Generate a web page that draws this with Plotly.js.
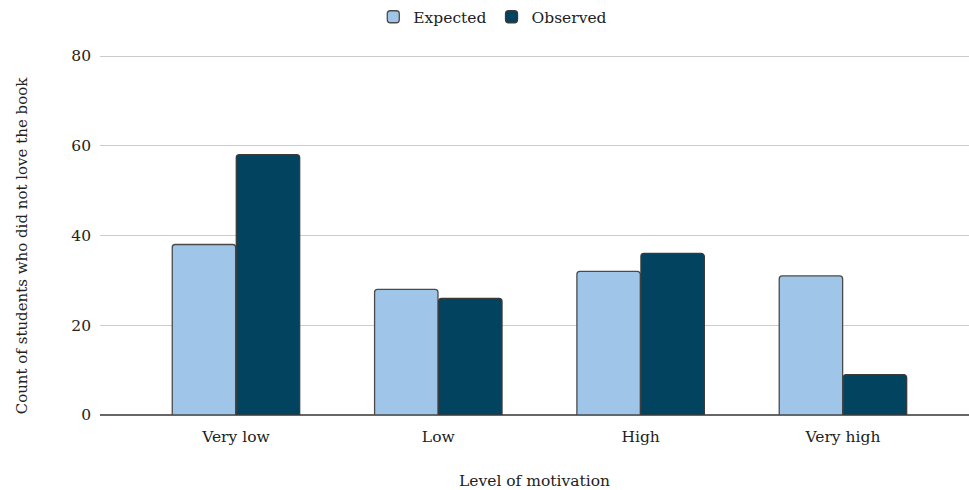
<!DOCTYPE html>
<html>
<head>
<meta charset="utf-8">
<script src="https://cdn.plot.ly/plotly-3.0.1.min.js"></script>
<style>html,body{margin:0;padding:0;background:#fff;}#chart{width:969px;height:490px;}</style>
</head>
<body>
<div id="chart"></div>
<script>
const categories = ["Very low", "Low", "High", "Very high"];
const expected = [38, 28, 32, 31];
const observed = [58, 26, 36, 9];
const yTicks = [0, 20, 40, 60, 80];

const FONT = "DejaVu Serif, Liberation Serif, serif";
const FS = 15.5;

const traces = [
  {
    type: "bar", name: "Expected", x: categories, y: expected,
    marker: {color: "#9fc5e8", line: {color: "#4a4a4a", width: 1.3}, cornerradius: 3},
    hoverinfo: "none"
  },
  {
    type: "bar", name: "Observed", x: categories, y: observed,
    marker: {color: "#02445f", line: {color: "#3a3a3a", width: 1.3}, cornerradius: 3},
    hoverinfo: "none"
  }
];

const layout = {
  width: 969, height: 490,
  margin: {l: 100, r: 0, t: 54, b: 75, autoexpand: false},
  paper_bgcolor: "#fff", plot_bgcolor: "#fff",
  font: {family: FONT, size: FS, color: "#222"},
  barmode: "group", bargap: 0.367, bargroupgap: 0.01,
  showlegend: true,
  legend: {orientation: "h", x: 0.452, xanchor: "center", yref: "container", y: 0.965, yanchor: "middle",
           font: {family: FONT, size: FS, color: "#222"}, itemwidth: 30},
  xaxis: {
    type: "category", range: [-0.672, 3.623],
    showgrid: false, zeroline: false, showline: false,
    ticks: "", ticklen: 0, ticklabelstandoff: 10,
    tickfont: {family: FONT, size: FS, color: "#222"},
    title: {text: "Level of motivation", font: {family: FONT, size: FS, color: "#222"}, standoff: 30}
  },
  yaxis: {
    range: [0, 80.45], tickvals: yTicks, ticktext: yTicks.map(String),
    showgrid: true, gridcolor: "#cccccc", gridwidth: 1,
    zeroline: true, zerolinecolor: "#666666", zerolinewidth: 2,
    showline: false, ticks: "", ticklabelstandoff: 8,
    tickfont: {family: FONT, size: FS, color: "#222"}
  },
  annotations: [{
    text: "Count of students who did not love the book",
    xref: "paper", yref: "paper", x: -0.0898, y: 0.47,
    xanchor: "center", yanchor: "middle", textangle: -90, showarrow: false,
    font: {family: FONT, size: 15, color: "#222"}
  }]
};

Plotly.newPlot("chart", traces, layout, {displayModeBar: false, staticPlot: true});
</script>
</body>
</html>
